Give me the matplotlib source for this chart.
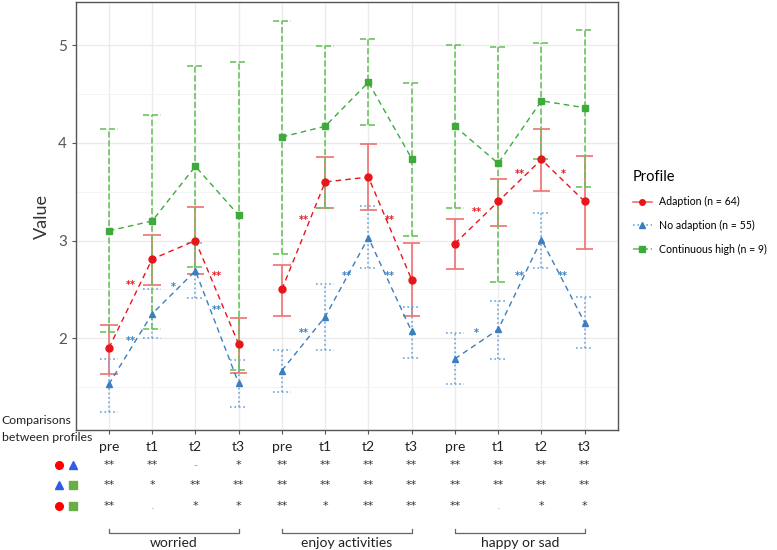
import numpy as np
import matplotlib.pyplot as plt
from matplotlib.lines import Line2D
from matplotlib.transforms import blended_transform_factory

plt.rcParams['font.family'] = ['Lato', 'DejaVu Sans']

# data
time_labels = ['pre', 't1', 't2', 't3'] * 3
groups = ['worried', 'enjoy activities', 'happy or sad']

red_mean = [1.90, 2.81, 3.00, 1.94, 2.50, 3.60, 3.65, 2.60, 2.97, 3.40, 3.83, 3.40]
red_lo = [1.63, 2.55, 2.66, 1.64, 2.23, 3.33, 3.31, 2.23, 2.71, 3.15, 3.51, 2.91]
red_hi = [2.14, 3.06, 3.34, 2.21, 2.75, 3.86, 3.99, 2.98, 3.22, 3.63, 4.14, 3.87]

blue_mean = [1.53, 2.25, 2.69, 1.54, 1.67, 2.22, 3.03, 2.07, 1.79, 2.09, 3.01, 2.16]
blue_lo = [1.25, 2.00, 2.41, 1.30, 1.45, 1.88, 2.72, 1.80, 1.53, 1.79, 2.72, 1.90]
blue_hi = [1.79, 2.50, 2.98, 1.78, 1.88, 2.56, 3.35, 2.32, 2.05, 2.38, 3.28, 2.42]

green_mean = [3.10, 3.20, 3.76, 3.26, 4.06, 4.17, 4.62, 3.84, 4.17, 3.79, 4.43, 4.36]
green_lo = [2.06, 2.09, 2.73, 1.68, 2.86, 3.33, 4.18, 3.05, 3.33, 2.58, 3.83, 3.55]
green_hi = [4.14, 4.29, 4.79, 4.83, 5.25, 4.99, 5.06, 4.61, 5.00, 4.98, 5.02, 5.16]

# significance between time points: (x between, y, text, series)
time_sig = [
    (0.5, 2.55, '**', 'red'), (0.5, 1.97, '**', 'blue'), (1.5, 2.52, '*', 'blue'),
    (2.5, 2.64, '**', 'red'), (2.5, 2.29, '**', 'blue'),
    (4.5, 3.21, '**', 'red'), (4.5, 2.05, '**', 'blue'), (5.5, 2.64, '**', 'blue'),
    (6.5, 3.21, '**', 'red'), (6.5, 2.64, '**', 'blue'),
    (8.5, 3.29, '**', 'red'), (8.5, 2.05, '*', 'blue'), (9.5, 3.68, '**', 'red'),
    (10.5, 3.68, '*', 'red'), (9.5, 2.64, '**', 'blue'), (10.5, 2.64, '**', 'blue'),
]

# comparisons between profiles
row_red_blue = ['**', '**', '-', '*', '**', '**', '**', '**', '**', '**', '**', '**']
row_blue_green = ['**', '*', '**', '**', '**', '**', '**', '**', '**', '**', '**', '**']
row_red_green = ['**', '.', '*', '*', '**', '*', '**', '**', '**', '.', '*', '*']

red = '#E8151B'
red_bar = '#F07070'
blue = '#3A7FC1'
blue_bar = '#6FA6DA'
green = '#3FAA3C'
green_bar = '#6CC35F'

fig = plt.figure(figsize=(7.77, 5.5), dpi=100)
ax = fig.add_axes([0.0978, 0.218, 0.697, 0.778])

x = np.arange(len(time_labels))
cap = 0.2

series = [
    (red_mean, red_lo, red_hi, red, red_bar, '-', 'o', 'Adaption (n = 64)'),
    (blue_mean, blue_lo, blue_hi, blue, blue_bar, ':', '^', 'No adaption (n = 55)'),
    (green_mean, green_lo, green_hi, green, green_bar, '--', 's', 'Continuous high (n = 9)'),
]

handles = []
for mean, lo, hi, c, cb, ls, mk, lab in series:
    ax.vlines(x, lo, hi, colors=cb, linestyles=ls, linewidth=1.2, zorder=2)
    ax.hlines(lo, x - cap, x + cap, colors=cb, linestyles=ls, linewidth=1.2, zorder=2)
    ax.hlines(hi, x - cap, x + cap, colors=cb, linestyles=ls, linewidth=1.2, zorder=2)
    for g in range(3):
        sl = slice(4 * g, 4 * g + 4)
        ax.plot(x[sl], np.array(mean)[sl], color=c, linestyle=(0, (4, 3)),
                linewidth=1.0, zorder=3)
    ax.plot(x, mean, linestyle='none', marker=mk, color=c, markersize=5, zorder=4)
    handles.append(Line2D([0], [0], color=cb, linestyle=ls, linewidth=1.2,
                          marker=mk, markerfacecolor=c, markeredgecolor=c,
                          markersize=4, label=lab))

sig_colors = {'red': red, 'blue': blue}
for xs, ys, t, s in time_sig:
    ax.text(xs, ys, t, color=sig_colors[s], fontsize=7, fontweight='bold',
            family='DejaVu Sans', ha='center', va='center', zorder=5)

ax.set_xlim(-0.76, 11.76)
ax.set_ylim(1.06, 5.44)
ax.set_yticks([2, 3, 4, 5])
ax.set_yticks([1.5, 2.5, 3.5, 4.5], minor=True)
ax.set_xticks(x)
ax.set_xticklabels(time_labels, fontsize=10, color='#222222')
ax.tick_params(axis='x', length=3, color='#555555', pad=5)
ax.tick_params(axis='y', length=3, color='#555555', labelsize=11, labelcolor='#555555')
ax.tick_params(axis='y', which='minor', length=0)
ax.grid(True, which='major', color='#EBEBEB', linewidth=1.0, zorder=0)
ax.grid(True, which='minor', axis='y', color='#F2F2F2', linewidth=0.6, zorder=0)
ax.set_axisbelow(True)
for sp in ax.spines.values():
    sp.set_color('#555555')
    sp.set_linewidth(1.0)
ax.set_ylabel('Value', fontsize=13, color='#333333', labelpad=6)

leg = fig.legend(handles=handles, loc='upper left', bbox_to_anchor=(0.806, 0.703),
                 frameon=False, title='Profile', fontsize=7.6, title_fontsize=10.5,
                 handlelength=1.8, handletextpad=0.7, labelspacing=1.2,
                 alignment='left', borderaxespad=0.2)

# comparisons table below the plot
tr = blended_transform_factory(ax.transData, fig.transFigure)
fig.text(0.002, 0.236, 'Comparisons', fontsize=8.8, ha='left', va='center', color='#222222')
fig.text(0.002, 0.205, 'between profiles', fontsize=8.8, ha='left', va='center', color='#222222')

row_y = [0.155, 0.118, 0.080]
rows = [row_red_blue, row_blue_green, row_red_green]
row_markers = [
    (('o', '#FF0000'), ('^', '#2E5CE6')),
    (('^', '#2E5CE6'), ('s', '#6AAD45')),
    (('o', '#FF0000'), ('s', '#6AAD45')),
]
for ry, row, mks in zip(row_y, rows, row_markers):
    for mx, (m, c) in zip([0.076, 0.094], mks):
        fig.add_artist(Line2D([mx], [ry], marker=m, color=c, markersize=5.5,
                              linestyle='none', transform=fig.transFigure))
    for xi, t in zip(x, row):
        col = '#333333' if t.startswith('*') else '#999999'
        ax.text(xi, ry, t, transform=tr, fontsize=8, family='DejaVu Sans',
                ha='center', va='center', color=col, clip_on=False)

# group brackets
for g, name in enumerate(groups):
    x0, x1 = 4 * g, 4 * g + 3
    ax.plot([x0, x0, x1, x1], [0.039, 0.031, 0.031, 0.039], transform=tr,
            color='#666666', linewidth=0.9, clip_on=False)
    ax.text((x0 + x1) / 2, 0.012, name, transform=tr, fontsize=10,
            ha='center', va='center', color='#222222', clip_on=False)

fig.savefig('out.png', dpi=100)
